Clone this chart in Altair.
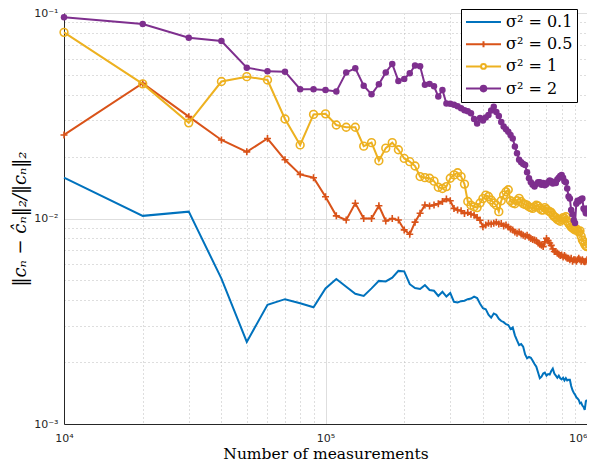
import altair as alt
import pandas as pd

# x grid: number of measurements (10^4 ... 10^6 in steps of 10^4)
measurements = [k * 10000 for k in range(1, 101)]

labels = ["σ² = 0.1", "σ² = 0.5", "σ² = 1", "σ² = 2"]
colors = ["#0072BD", "#D95319", "#EDB120", "#7E2F8E"]

err_s01 = [0.0158, 0.0103, 0.0108, 0.0051, 0.00251, 0.0038, 0.00405, 0.00387, 0.0037, 0.00457,
           0.00508, 0.00465, 0.0043, 0.0042, 0.00457, 0.00497, 0.00494, 0.00515, 0.00556, 0.00553,
           0.00479, 0.00459, 0.00454, 0.00474, 0.00449, 0.00445, 0.0042, 0.0044, 0.00417, 0.00434,
           0.00393, 0.0039, 0.00396, 0.00398, 0.00405, 0.00408, 0.00417, 0.0041, 0.00385, 0.00366,
           0.00362, 0.0034, 0.00329, 0.00345, 0.0034, 0.00325, 0.00317, 0.00313, 0.00306, 0.00303,
           0.0029, 0.00295, 0.0027, 0.00255, 0.00242, 0.00245, 0.00238, 0.00218, 0.00209, 0.00212,
           0.0021, 0.00203, 0.00196, 0.0019, 0.00178, 0.00167, 0.0017, 0.00176, 0.00178, 0.00172,
           0.00175, 0.00174, 0.00181, 0.00186, 0.00176, 0.00172, 0.00168, 0.00172, 0.00167, 0.00165,
           0.00168, 0.00163, 0.00167, 0.00163, 0.00164, 0.00164, 0.00153, 0.00146, 0.00142, 0.00139,
           0.00135, 0.00133, 0.00131, 0.00126, 0.00127, 0.00123, 0.00121, 0.00117, 0.00129, 0.00131]

err_s05 = [0.0255, 0.0455, 0.0313, 0.0241, 0.0211, 0.0245, 0.0193, 0.0164, 0.0158, 0.01277,
           0.0103, 0.00984, 0.01186, 0.0100, 0.0100, 0.01154, 0.00973, 0.0100, 0.00983, 0.0088,
           0.00838, 0.0096, 0.0106, 0.01164, 0.0115, 0.01164, 0.0118, 0.0121, 0.01245, 0.0122,
           0.0112, 0.0110, 0.0109, 0.01059, 0.0107, 0.0105, 0.0104, 0.0101, 0.0098, 0.00912,
           0.0093, 0.00948, 0.0094, 0.00948, 0.0096, 0.0094, 0.00945, 0.0092, 0.0093, 0.0091,
           0.0089, 0.0088, 0.0086, 0.00847, 0.0086, 0.0084, 0.0083, 0.0082, 0.0083, 0.0081,
           0.0080, 0.0079, 0.00786, 0.0078, 0.0076, 0.0075, 0.0074, 0.0073, 0.0077, 0.0080,
           0.0078, 0.0076, 0.0074, 0.0071, 0.00691, 0.0069, 0.0068, 0.0067, 0.0066, 0.00664,
           0.0065, 0.0066, 0.0065, 0.0064, 0.0064, 0.0063, 0.0064, 0.0062, 0.0063, 0.0063,
           0.0062, 0.0063, 0.0064, 0.0063, 0.0062, 0.0063, 0.0062, 0.00616, 0.0062, 0.0063]

err_s1 = [0.0805, 0.0452, 0.0292, 0.0464, 0.049, 0.0472, 0.0305, 0.0228, 0.0321, 0.0323,
          0.0285, 0.0278, 0.0278, 0.0225, 0.0234, 0.0191, 0.022, 0.0234, 0.0216, 0.0196,
          0.0189, 0.018, 0.016, 0.0158, 0.0157, 0.0152, 0.0142, 0.0140, 0.0143, 0.0157,
          0.0163, 0.0167, 0.0160, 0.0147, 0.0121, 0.0116, 0.0114, 0.0113, 0.0119, 0.0125,
          0.0130, 0.0128, 0.0123, 0.0119, 0.0116, 0.0108, 0.0122, 0.0130, 0.0135, 0.0138,
          0.0122, 0.0119, 0.0118, 0.0122, 0.01253, 0.0121, 0.0118, 0.0117, 0.0116, 0.0114,
          0.0113, 0.0112, 0.0114, 0.0116, 0.0115, 0.0112, 0.0110, 0.0110, 0.0113, 0.0111,
          0.0109, 0.0108, 0.0107, 0.0104, 0.0102, 0.0101, 0.0099, 0.0098, 0.0097, 0.0099,
          0.0101, 0.0100, 0.0102, 0.0097, 0.0095, 0.0093, 0.0091, 0.0090, 0.0089, 0.0088,
          0.0089, 0.0087, 0.0086, 0.0087, 0.0082, 0.00786, 0.0077, 0.0075, 0.00735, 0.0073]

err_s2 = [0.0953, 0.0884, 0.0758, 0.0731, 0.0542, 0.052, 0.0518, 0.0426, 0.0426, 0.0422,
          0.0415, 0.0514, 0.0538, 0.0443, 0.0402, 0.045, 0.0514, 0.0565, 0.0467, 0.0478,
          0.0509, 0.0555, 0.0550, 0.0447, 0.0452, 0.0440, 0.0392, 0.0422, 0.0363, 0.0362,
          0.0358, 0.0352, 0.0344, 0.0336, 0.0333, 0.0325, 0.0305, 0.029, 0.0308, 0.0300,
          0.0310, 0.0319, 0.0335, 0.0350, 0.0330, 0.0315, 0.0295, 0.0280, 0.0272, 0.0264,
          0.0255, 0.0245, 0.0224, 0.0208, 0.0193, 0.0188, 0.0184, 0.0182, 0.0168, 0.0157,
          0.0150, 0.0146, 0.0143, 0.0147, 0.0150, 0.0150, 0.0146, 0.0149, 0.0145, 0.0147,
          0.0150, 0.0153, 0.0152, 0.0148, 0.0150, 0.0149, 0.0155, 0.0158, 0.0161, 0.0163,
          0.0158, 0.0152, 0.0150, 0.0140, 0.0128, 0.0125, 0.0110, 0.0105, 0.0098, 0.0095,
          0.0118, 0.0122, 0.0121, 0.0123, 0.0124, 0.0125, 0.0112, 0.0110, 0.0106, 0.0112]

x_ticks = [10000, 20000, 30000, 40000, 50000, 60000, 70000, 80000, 90000,
           100000, 200000, 300000, 400000, 500000, 600000, 700000, 800000, 900000, 1000000]
y_ticks = [0.001, 0.002, 0.003, 0.004, 0.005, 0.006, 0.007, 0.008, 0.009,
           0.01, 0.02, 0.03, 0.04, 0.05, 0.06, 0.07, 0.08, 0.09, 0.1]

series_vals = [err_s01, err_s05, err_s1, err_s2]
frames = [pd.DataFrame({"n": measurements, "err": v, "series": lab})
          for lab, v in zip(labels, series_vals)]

X_MAJOR = "datum.value == 10000 || datum.value == 100000 || datum.value == 1000000"
Y_MAJOR = "datum.value == 0.001 || datum.value == 0.01 || datum.value == 0.1"

grid_common = dict(grid=True, ticks=False, domainColor="#262626", domainWidth=1,
                   labelFont="DejaVu Sans", labelFontSize=11, labelColor="#262626",
                   labelOverlap=False, labelFlush=False,
                   titleFont="DejaVu Serif", titleFontWeight="normal",
                   titleColor="black", gridWidth=1)

x_enc = alt.X("n:Q",
              scale=alt.Scale(type="log", domain=[10000, 1000000], nice=False),
              axis=alt.Axis(values=x_ticks,
                            labelExpr="datum.value == 10000 ? '10⁴' : datum.value == 100000 ? '10⁵' : datum.value == 1000000 ? '10⁶' : ''",
                            labelAlign={"condition": {"test": "datum.value == 1000000", "value": "right"}, "value": "center"},
                            gridDash={"condition": {"test": X_MAJOR, "value": []}, "value": [1, 3]},
                            gridColor={"condition": {"test": X_MAJOR, "value": "#dedede"}, "value": "#bdbdbd"},
                            labelPadding=8, titlePadding=3, titleFontSize=15.5,
                            title="Number of measurements", **grid_common))
y_enc = alt.Y("err:Q",
              scale=alt.Scale(type="log", domain=[0.001, 0.1], nice=False),
              axis=alt.Axis(values=y_ticks,
                            labelExpr="datum.value == 0.1 ? '10⁻¹' : datum.value == 0.01 ? '10⁻²' : datum.value == 0.001 ? '10⁻³' : ''",
                            gridDash={"condition": {"test": Y_MAJOR, "value": []}, "value": [1, 3]},
                            gridColor={"condition": {"test": Y_MAJOR, "value": "#dedede"}, "value": "#bdbdbd"},
                            labelPadding=6, titlePadding=4, titleFontStyle="italic", titleFontSize=18,
                            title="‖cₙ − ĉₙ‖₂/‖cₙ‖₂", **grid_common))

layers = []
# series 0.1 : line only
layers.append(alt.Chart(frames[0]).mark_line(strokeWidth=2, color=colors[0]).encode(x=x_enc, y=y_enc))
# series 0.5 : line + '+'
layers.append(alt.Chart(frames[1]).mark_line(strokeWidth=2, color=colors[1]).encode(x=x_enc, y=y_enc))
layers.append(alt.Chart(frames[1]).mark_point(shape="M-1,0L1,0M0,-1L0,1", size=49, filled=False,
                                              strokeWidth=1.6, color=colors[1], opacity=1).encode(x=x_enc, y=y_enc))
# series 1 : line + 'o'
layers.append(alt.Chart(frames[2]).mark_line(strokeWidth=2, color=colors[2]).encode(x=x_enc, y=y_enc))
layers.append(alt.Chart(frames[2]).mark_point(shape="circle", size=60, filled=False,
                                              strokeWidth=1.6, color=colors[2], opacity=1).encode(x=x_enc, y=y_enc))
# series 2 : line + filled dots
layers.append(alt.Chart(frames[3]).mark_line(strokeWidth=2, color=colors[3]).encode(x=x_enc, y=y_enc))
layers.append(alt.Chart(frames[3]).mark_point(shape="circle", size=42, filled=True, strokeWidth=1,
                                              color=colors[3], opacity=1).encode(x=x_enc, y=y_enc))

# legend-only layer (no drawable positions)
legend_paths = [
    "M-1,0L1,0",
    "M-1,0L1,0M0,-0.17L0,0.17",
    "M-1,0L-0.14,0M0.14,0L1,0M0.14,0A0.14,0.14 0 1,1 -0.14,0A0.14,0.14 0 1,1 0.14,0",
    "M-1,0L1,0M0.16,0A0.16,0.16 0 1,1 -0.16,0A0.16,0.16 0 1,1 0.16,0",
]
legend_fill = ["transparent", "transparent", "transparent", colors[3]]
leg = alt.Legend(title=None, orient="none", legendX=397, legendY=-4)
legend_df = pd.DataFrame({"n": [None] * 4, "err": [None] * 4, "series": labels})
legend_layer = alt.Chart(legend_df).mark_point(opacity=1).encode(
    x=alt.X("n:Q"), y=alt.Y("err:Q"),
    stroke=alt.Stroke("series:N", scale=alt.Scale(domain=labels, range=colors), legend=leg),
    shape=alt.Shape("series:N", scale=alt.Scale(domain=labels, range=legend_paths), legend=leg),
    fill=alt.Fill("series:N", scale=alt.Scale(domain=labels, range=legend_fill), legend=leg),
)

chart = alt.layer(*layers, legend_layer).properties(
    width=523, height=411,
    autosize=alt.AutoSizeParams(type="none"),
    padding={"left": 56, "top": 5, "right": 0, "bottom": 39},
    background="white",
).configure_view(stroke=None).configure_legend(
    strokeColor="black", fillColor="white", padding=4, cornerRadius=0,
    labelFont="DejaVu Serif", labelFontSize=16, labelColor="black",
    symbolSize=1225, symbolStrokeWidth=2, clipHeight=18, rowPadding=4.2,
    labelOffset=4,
)

chart.save("out.html", embed_options={"renderer": "svg", "actions": False})
